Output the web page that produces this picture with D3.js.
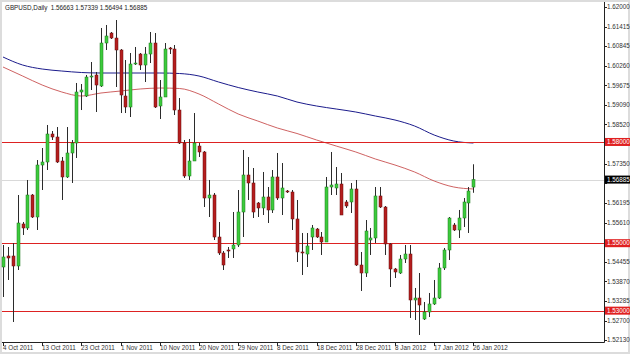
<!DOCTYPE html>
<html><head><meta charset="utf-8">
<script src="https://cdn.jsdelivr.net/npm/d3@7/dist/d3.min.js"></script>
<style>
html,body{margin:0;padding:0;background:#dcdcdc;}
svg{display:block;font-family:"Liberation Sans",Arial,sans-serif;}
</style></head><body>
<svg id="c" width="630" height="354"></svg>
<script>
const symbolTitle = "GBPUSD,Daily  1.56663 1.57339 1.56494 1.56885";
const open = [
1.54294,1.54620,1.54620,1.54324,1.55569,1.55450,1.56428,1.55776,1.57317,1.57406,
1.58236,1.58147,1.57436,1.56962,1.57673,1.57969,1.59481,1.59362,1.59925,1.59985,
1.59659,1.60933,1.61229,1.61081,1.60726,1.59362,1.59036,1.60311,1.60607,1.60281,
1.60607,1.60933,1.59066,1.59333,1.60785,1.60755,1.58947,1.57969,1.56991,1.57436,
1.57880,1.57703,1.56339,1.56428,1.55183,1.54709,1.54798,1.54828,1.54946,1.55924,
1.57021,1.56784,1.56191,1.56043,1.56369,1.55984,1.56962,1.56339,1.56547,1.56517,
1.55717,1.54739,1.54679,1.55183,1.55420,1.55183,1.55035,1.56665,1.56636,1.56754,
1.56221,1.56221,1.56606,1.54353,1.54116,1.55094,1.55154,1.56399,1.56072,1.54976,
1.54235,1.54116,1.54531,1.54679,1.53316,1.53375,1.52753,1.52960,1.53198,1.53375,
1.54265,1.54798,1.55539,1.55391,1.55746,1.56191,1.56663];
const high = [
1.54946,1.54887,1.55005,1.56428,1.55628,1.56873,1.56458,1.57465,1.57821,1.58503,
1.58325,1.58443,1.57554,1.58443,1.58058,1.59748,1.59718,1.59985,1.60370,1.60074,
1.61378,1.61467,1.61259,1.61615,1.60755,1.60429,1.60637,1.60815,1.60637,1.60815,
1.61259,1.61229,1.59836,1.60933,1.60815,1.60874,1.59303,1.58058,1.58088,1.58858,
1.57969,1.57732,1.56873,1.56487,1.55628,1.54768,1.54887,1.55924,1.56576,1.57762,
1.57554,1.57228,1.56221,1.57110,1.56665,1.57169,1.57673,1.57376,1.56576,1.56576,
1.56280,1.55302,1.55302,1.55539,1.55450,1.55331,1.56962,1.57703,1.57258,1.57080,
1.56280,1.56784,1.56873,1.54739,1.55687,1.55450,1.56665,1.56665,1.56102,1.55005,
1.54265,1.54650,1.54946,1.54946,1.53672,1.54116,1.53257,1.53524,1.53909,1.54413,
1.54857,1.55776,1.55598,1.55984,1.56339,1.56665,1.57339];
const low = [
1.53405,1.53909,1.52664,1.54205,1.55243,1.55391,1.55746,1.55391,1.56576,1.57169,
1.58058,1.57376,1.56280,1.56932,1.56784,1.57525,1.58947,1.59333,1.59540,1.58888,
1.59629,1.60726,1.61052,1.59629,1.58858,1.58858,1.58740,1.60281,1.60133,1.59777,
1.60340,1.59007,1.58681,1.59333,1.60607,1.58799,1.57940,1.56932,1.56873,1.57436,
1.57554,1.56072,1.55776,1.55094,1.54650,1.54205,1.54561,1.54561,1.54887,1.55183,
1.56280,1.55746,1.55776,1.55835,1.55598,1.55895,1.56280,1.55835,1.56487,1.55391,
1.54442,1.54057,1.54294,1.54798,1.55154,1.54650,1.55035,1.56428,1.56428,1.55835,
1.56043,1.55895,1.54324,1.53583,1.53998,1.54650,1.55005,1.56043,1.54650,1.53701,
1.53968,1.54087,1.54413,1.52783,1.52723,1.52279,1.52723,1.52812,1.53168,1.53346,
1.54205,1.54502,1.55361,1.55154,1.55480,1.55302,1.56494];
const close = [
1.54591,1.54561,1.54324,1.55598,1.55450,1.56428,1.55776,1.57317,1.57406,1.58236,
1.58147,1.57406,1.56962,1.57673,1.57969,1.59481,1.59540,1.59925,1.59955,1.59688,
1.60933,1.61141,1.61081,1.60726,1.59392,1.59036,1.60311,1.60340,1.60281,1.60607,
1.60933,1.59036,1.59333,1.60755,1.60755,1.58947,1.57969,1.56991,1.57436,1.57969,
1.57703,1.56339,1.56428,1.55183,1.54709,1.54353,1.54768,1.54946,1.55924,1.57021,
1.56784,1.55924,1.56043,1.56369,1.55984,1.56962,1.56339,1.56636,1.56517,1.55717,
1.54739,1.54709,1.54917,1.55450,1.55183,1.55035,1.56665,1.56725,1.56754,1.55835,
1.56102,1.56606,1.54353,1.54116,1.55361,1.55154,1.56399,1.56072,1.54976,1.54235,
1.54146,1.54531,1.54679,1.53316,1.53375,1.53168,1.52960,1.53198,1.53375,1.54265,
1.54798,1.55746,1.55391,1.55746,1.56221,1.56547,1.56885];

// moving averages sampled every 4th bar
const maIdx = [0,4,8,12,16,20,24,28,32,36,40,44,48,52,56,60,64,68,72,76,80,84,88,92,96];
const maSlow = [1.60518,1.60281,1.60162,1.60103,1.60059,1.60044,1.60044,1.60044,1.60044,1.60029,1.59955,1.59777,1.59614,1.59481,1.59362,1.59184,1.59066,1.58977,1.58888,1.58769,1.58651,1.58473,1.58206,1.58028,1.57969];
const maFast = [1.60222,1.59955,1.59688,1.59481,1.59362,1.59451,1.59510,1.59570,1.59599,1.59585,1.59422,1.59125,1.58829,1.58621,1.58414,1.58251,1.58058,1.57880,1.57703,1.57495,1.57317,1.57110,1.56843,1.56665,1.56606];

const levels = [1.58, 1.55, 1.53];
const levelLabels = ["1.58000","1.55000","1.53000"];
const bidPrice = 1.56885, bidLabel = "1.56885";

const priceTicks = ["1.62000","1.61415","1.60845","1.60260","1.59675","1.59090","1.58520","1.57935","1.57350","1.56780","1.56195","1.55610","1.55025","1.54455","1.53870","1.53285","1.52700","1.52130"];
const dateLabels = ["4 Oct 2011","13 Oct 2011","23 Oct 2011","1 Nov 2011","10 Nov 2011","20 Nov 2011","29 Nov 2011","8 Dec 2011","18 Dec 2011","28 Dec 2011","8 Jan 2012","17 Jan 2012","26 Jan 2012"];
const dateIdx = [0,8,16,24,32,40,48,56,64,72,80,88,96];

const svg = d3.select("#c");
const L = 2, T = 2, R = 604, B = 342;
svg.append("rect").attr("x",2).attr("y",2).attr("width",626).attr("height",350).attr("fill","#fff");

const x = d3.scaleLinear().domain([0, 122.45]).range([3, 603]);
const y = d3.scaleLinear().domain([1.52071, 1.62119]).range([B, 3]);
const px = i => Math.round(x(i));

const plot = svg.append("g");
// bid line
plot.append("line").attr("x1",L).attr("x2",R).attr("y1",Math.round(y(bidPrice))+0.5).attr("y2",Math.round(y(bidPrice))+0.5)
  .attr("stroke","#d9d9d9").attr("stroke-width",1);
// moving averages
const maLine = arr => d3.line().x((d,k)=>x(maIdx[k])).y(d=>y(d)).curve(d3.curveMonotoneX)(arr);
plot.append("path").attr("d",maLine(maSlow)).attr("fill","none").attr("stroke","#1c1c8c").attr("stroke-width",1);
plot.append("path").attr("d",maLine(maFast)).attr("fill","none").attr("stroke","#c85050").attr("stroke-width",0.9);
// level lines (drawn as thin filled rects)
levels.forEach(v=>{
  const yy = Math.round(y(v));
  plot.append("rect").attr("x",L).attr("width",R-L).attr("y",yy).attr("height",1).attr("fill","#dd2222");
});
// candles
const bars = open.map((o,i)=>({i,o,h:high[i],l:low[i],c:close[i]}));
const g = plot.selectAll("g.bar").data(bars).join("g").attr("class","bar");
g.append("line").attr("x1",d=>px(d.i)+0.5).attr("x2",d=>px(d.i)+0.5)
  .attr("y1",d=>y(d.h)).attr("y2",d=>y(d.l)).attr("stroke","#2b2b2b").attr("stroke-width",1);
g.append("rect")
  .attr("x",d=>px(d.i)-1)
  .attr("width",3)
  .attr("y",d=>Math.min(y(d.o),y(d.c)))
  .attr("height",d=>Math.max(1,Math.abs(y(d.o)-y(d.c))))
  .attr("fill",d=>d.c>=d.o?"#3ccb3c":"#b51e1e")
  .attr("stroke",d=>d.c>=d.o?"#1f7a1f":"#6a0f0f").attr("stroke-width",0.5);

// axes lines
svg.append("line").attr("x1",R+0.5).attr("x2",R+0.5).attr("y1",T).attr("y2",B+0.5).attr("stroke","#222");
svg.append("line").attr("x1",L).attr("x2",R+0.5).attr("y1",B+0.5).attr("y2",B+0.5).attr("stroke","#222");

// price axis (labels hidden under the marker boxes are skipped)
const boxed = levels.concat([bidPrice]).map(v=>y(v));
const pa = svg.append("g").attr("font-size","6.3px").attr("fill","#333");
priceTicks.forEach(t=>{
  const yy = y(+t);
  pa.append("line").attr("x1",R).attr("x2",R+3).attr("y1",Math.round(yy)+0.5).attr("y2",Math.round(yy)+0.5).attr("stroke","#222");
  if (boxed.some(b=>Math.abs(b-yy)<7)) return;
  pa.append("text").attr("x",607).attr("y",yy).attr("dy","0.35em").text(t);
});
levels.forEach((v,k)=>{
  const yy = y(v);
  svg.append("rect").attr("x",605).attr("y",yy-4).attr("width",25).attr("height",8).attr("fill","#e02020");
  svg.append("text").attr("x",607).attr("y",yy).attr("dy","0.35em").attr("font-size","6.3px").attr("fill","#fff").text(levelLabels[k]);
});
{
  const yy = y(bidPrice);
  svg.append("rect").attr("x",605).attr("y",yy-4).attr("width",25).attr("height",8).attr("fill","#000");
  svg.append("text").attr("x",607).attr("y",yy).attr("dy","0.35em").attr("font-size","6.3px").attr("fill","#fff").text(bidLabel);
}

// date axis
const da = svg.append("g").attr("font-size","6.3px").attr("fill","#333");
dateIdx.forEach((di,k)=>{
  const xx = px(di)+0.5;
  da.append("line").attr("x1",xx).attr("x2",xx).attr("y1",B).attr("y2",B+4).attr("stroke","#222");
  da.append("text").attr("x",xx-0.5).attr("y",350).text(dateLabels[k]);
});

// title
svg.append("text").attr("x",5).attr("y",9.5).attr("font-size","6.3px").attr("fill","#222").attr("xml:space","preserve").text(symbolTitle);
</script>
</body></html>
